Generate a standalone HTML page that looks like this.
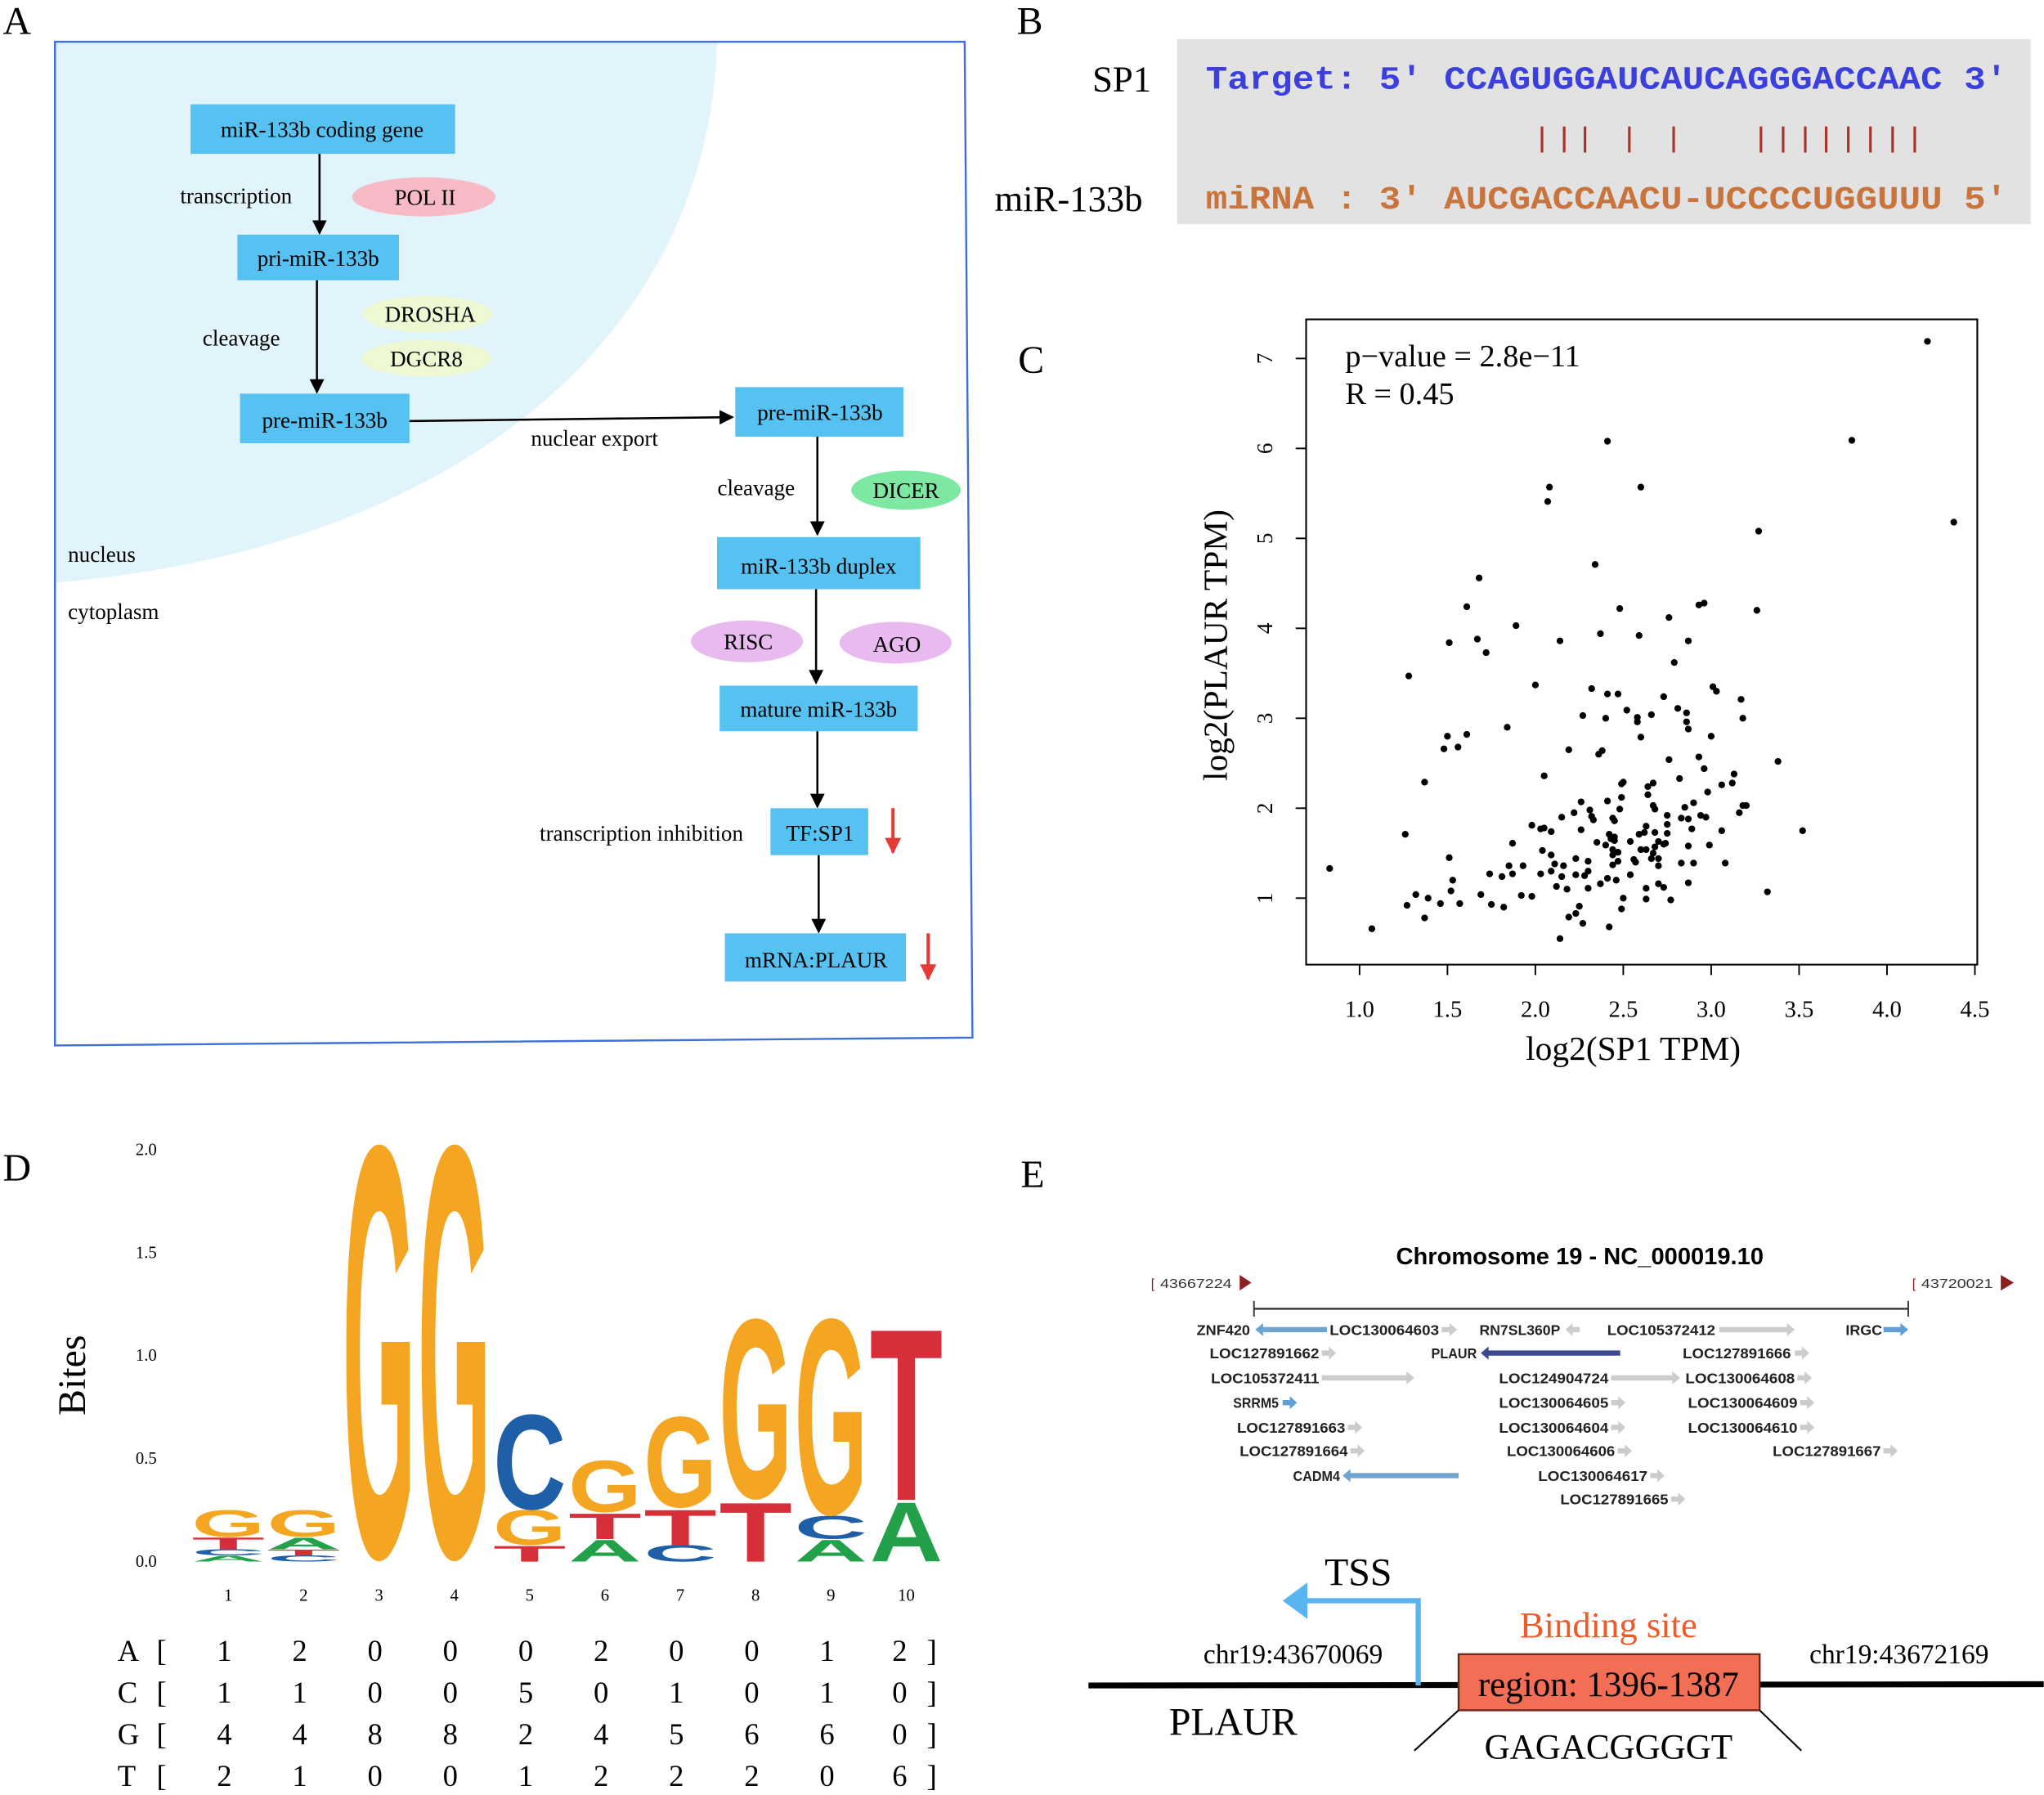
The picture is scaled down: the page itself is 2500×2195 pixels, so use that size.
<!DOCTYPE html>
<html><head><meta charset="utf-8">
<style>
html,body{margin:0;padding:0;background:#fff;}
svg{display:block;}
.serif{font-family:"Liberation Serif",serif;}
.sans{font-family:"Liberation Sans",sans-serif;}
.mono{font-family:"Liberation Mono",monospace;}
</style></head>
<body>
<svg id="fig" width="2500" height="2195" viewBox="0 0 1568 1377" xmlns="http://www.w3.org/2000/svg">
<defs>
<marker id="ah" viewBox="0 0 10 10" refX="9" refY="5" markerWidth="7" markerHeight="7" orient="auto"><path d="M0,0 L10,5 L0,10 z" fill="#000"/></marker>
<marker id="ahr" viewBox="0 0 10 10" refX="9" refY="5" markerWidth="5" markerHeight="5" orient="auto"><path d="M0,0 L10,5 L0,10 z" fill="#e53935"/></marker>
</defs>

<g class="serif" font-size="30" fill="#000">
<text x="2" y="26">A</text>
<text x="780" y="26">B</text>
<text x="781" y="286">C</text>
<text x="2" y="906">D</text>
<text x="783" y="911">E</text>
</g>

<!-- Panel A -->
<g>
<path d="M42,32 L550,32 C545,250 360,420 42,447 Z" fill="#e1f4fc"/>
<polygon points="42,32 740,32 746,796 42,802" fill="none" stroke="#3f6fd6" stroke-width="1.5"/>
<g fill="#55c2f2">
<rect x="146" y="80" width="203" height="38"/>
<rect x="182" y="180" width="124" height="35"/>
<rect x="184" y="302" width="130" height="38"/>
<rect x="564" y="297" width="129" height="38"/>
<rect x="550" y="412" width="156" height="40"/>
<rect x="552" y="526" width="152" height="35"/>
<rect x="591" y="620" width="75" height="36"/>
<rect x="556" y="716" width="139" height="37"/>
</g>
<ellipse cx="325" cy="151" rx="55" ry="15" fill="#f8bac5"/>
<ellipse cx="328" cy="241" rx="50" ry="14" fill="#eef8d2"/>
<ellipse cx="327" cy="275" rx="50" ry="14" fill="#eef8d2"/>
<ellipse cx="695" cy="376" rx="42" ry="15" fill="#7ee8a2"/>
<ellipse cx="573" cy="492" rx="43" ry="16" fill="#e8baf0"/>
<ellipse cx="687" cy="493" rx="43" ry="16" fill="#e8baf0"/>
<g stroke="#000" stroke-width="1.6" marker-end="url(#ah)">
<line x1="245" y1="118" x2="245" y2="179"/>
<line x1="243" y1="215" x2="243" y2="301"/>
<line x1="314" y1="323" x2="562" y2="320"/>
<line x1="627" y1="335" x2="627" y2="410"/>
<line x1="626" y1="452" x2="626" y2="524"/>
<line x1="627" y1="561" x2="627" y2="619"/>
<line x1="628" y1="656" x2="628" y2="715"/>
</g>
<g stroke="#e53935" stroke-width="2.5" marker-end="url(#ahr)">
<line x1="685" y1="620" x2="685" y2="654"/>
<line x1="712" y1="716" x2="712" y2="751"/>
</g>
<g class="serif" font-size="17" fill="#000" text-anchor="middle">
<text x="247" y="105">miR-133b coding gene</text>
<text x="244" y="204">pri-miR-133b</text>
<text x="249" y="328">pre-miR-133b</text>
<text x="629" y="322">pre-miR-133b</text>
<text x="628" y="440">miR-133b duplex</text>
<text x="628" y="550">mature miR-133b</text>
<text x="629" y="645">TF:SP1</text>
<text x="626" y="742">mRNA:PLAUR</text>
<text x="326" y="157">POL II</text>
<text x="330" y="247">DROSHA</text>
<text x="327" y="281">DGCR8</text>
<text x="695" y="382">DICER</text>
<text x="574" y="498">RISC</text>
<text x="688" y="500">AGO</text>
<text x="181" y="156">transcription</text>
<text x="185" y="265">cleavage</text>
<text x="456" y="342">nuclear export</text>
<text x="580" y="380">cleavage</text>
<text x="492" y="645">transcription inhibition</text>
</g>
<g class="serif" font-size="17" fill="#000">
<text x="52" y="431">nucleus</text>
<text x="52" y="475">cytoplasm</text>
</g>
</g>

<!-- Panel B -->
<g>
<rect x="903" y="30" width="655" height="142" fill="#e2e2e2"/>
<text class="serif" x="838" y="70" font-size="28">SP1</text>
<text class="serif" x="763" y="162" font-size="28">miR-133b</text>
<text class="mono" x="925" y="68" font-size="25" font-weight="bold" fill="#3b3fdc" textLength="615" lengthAdjust="spacingAndGlyphs" xml:space="preserve">Target: 5' CCAGUGGAUCAUCAGGGACCAAC 3'</text>
<g stroke="#a8352c" stroke-width="2">
<line x1="1183" y1="97" x2="1183" y2="117"/><line x1="1200" y1="97" x2="1200" y2="117"/><line x1="1216" y1="97" x2="1216" y2="117"/>
<line x1="1250" y1="97" x2="1250" y2="117"/><line x1="1284" y1="97" x2="1284" y2="117"/>
<line x1="1351" y1="97" x2="1351" y2="117"/><line x1="1368" y1="97" x2="1368" y2="117"/><line x1="1385" y1="97" x2="1385" y2="117"/><line x1="1401" y1="97" x2="1401" y2="117"/>
<line x1="1418" y1="97" x2="1418" y2="117"/><line x1="1435" y1="97" x2="1435" y2="117"/><line x1="1452" y1="97" x2="1452" y2="117"/><line x1="1469" y1="97" x2="1469" y2="117"/>
</g>
<text class="mono" x="925" y="160" font-size="25" font-weight="bold" fill="#c8743c" textLength="615" lengthAdjust="spacingAndGlyphs" xml:space="preserve">miRNA : 3' AUCGACCAACU-UCCCCUGGUUU 5'</text>
</g>

<!-- Panel C scatter -->
<g id="scatter">
<rect x="1002" y="245" width="515" height="495" fill="none" stroke="#000" stroke-width="1.3"/>
<g id="xticks"></g><g id="yticks"></g><g id="pts"></g>
<text class="serif" x="1032" y="281" font-size="24">p−value = 2.8e−11</text>
<text class="serif" x="1032" y="310" font-size="24">R = 0.45</text>
<text class="serif" x="1253" y="813" font-size="26" text-anchor="middle">log2(SP1 TPM)</text>
<text class="serif" x="0" y="0" font-size="26" text-anchor="middle" transform="translate(941,495) rotate(-90)">log2(PLAUR TPM)</text>
</g>

<!-- Panel D logo -->
<g id="logo">
<text class="serif" x="0" y="0" font-size="30" text-anchor="middle" transform="translate(65,1055) rotate(-90)">Bites</text>
<g id="logoYt"></g><g id="logoLetters"></g><g id="logoX"></g><g id="matrix"></g>
</g>

<!-- Panel E -->
<g>
<text class="sans" x="1212" y="970" font-size="18" font-weight="bold" text-anchor="middle" textLength="282" lengthAdjust="spacingAndGlyphs">Chromosome 19 - NC_000019.10</text>
<g class="sans" font-size="10" fill="#333">
<text x="883" y="988" fill="#8b2020">[</text><text x="890" y="988" textLength="55" lengthAdjust="spacingAndGlyphs">43667224</text>
<polygon points="951,978 960,984 951,990" fill="#8b2020"/>
<text x="1467" y="988" fill="#8b2020">[</text><text x="1474" y="988" textLength="55" lengthAdjust="spacingAndGlyphs">43720021</text>
<polygon points="1535,978 1545,984 1535,990" fill="#8b2020"/>
</g>
<line x1="962" y1="1004" x2="1464" y2="1004" stroke="#333" stroke-width="1.5"/>
<line x1="962" y1="998" x2="962" y2="1010" stroke="#333" stroke-width="1.2"/>
<line x1="1464" y1="998" x2="1464" y2="1010" stroke="#333" stroke-width="1.2"/>
<g id="genes"></g>
<line x1="835" y1="1293" x2="1568" y2="1292" stroke="#000" stroke-width="4.5"/>
<polyline points="1088,1293 1088,1228 1000,1228" fill="none" stroke="#5ab4f0" stroke-width="4"/>
<polygon points="984,1228 1003,1214 1003,1242" fill="#5ab4f0"/>
<text class="serif" x="1042" y="1216" font-size="30" text-anchor="middle">TSS</text>
<rect x="1119" y="1269" width="231" height="43" fill="#f26e55" stroke="#6b2a1a" stroke-width="1.5"/>
<text class="serif" x="1234" y="1301" font-size="27" text-anchor="middle">region: 1396-1387</text>
<text class="serif" x="1234" y="1256" font-size="28" text-anchor="middle" fill="#f05a28">Binding site</text>
<text class="serif" x="992" y="1276" font-size="21" text-anchor="middle">chr19:43670069</text>
<text class="serif" x="1457" y="1276" font-size="21" text-anchor="middle">chr19:43672169</text>
<text class="serif" x="946" y="1331" font-size="30" text-anchor="middle">PLAUR</text>
<text class="serif" x="1234" y="1349" font-size="27" text-anchor="middle">GAGACGGGGT</text>
<line x1="1119" y1="1312" x2="1085" y2="1343" stroke="#000" stroke-width="1.3"/>
<line x1="1350" y1="1312" x2="1382" y2="1343" stroke="#000" stroke-width="1.3"/>
</g>

<script>
const NS = "http://www.w3.org/2000/svg";
const sp1Values = [4.23,2.41,3.80,2.08,2.07,2.60,4.38,3.27,2.34,1.68,1.61,2.48,2.93,2.96,3.26,2.76,1.89,2.37,2.59,1.51,1.67,2.14,2.87,1.72,2.79,1.28,2.00,2.32,2.41,2.47,2.73,3.01,3.03,3.17,2.81,2.52,2.86,2.27,2.66,2.40,2.58,2.58,2.86,2.87,3.18,1.84,1.50,1.61,2.60,3.00,1.48,1.56,2.19,2.38,2.36,2.76,2.93,3.38,2.96,2.05,1.37,2.82,2.50,2.49,2.67,2.64,3.06,3.13,3.12,2.98,2.64,2.49,2.26,2.41,2.90,3.18,3.20,2.67,2.68,2.31,2.48,2.85,3.16,2.22,2.32,2.33,2.44,2.45,2.75,2.75,2.83,2.87,2.97,2.94,2.15,1.98,2.03,2.05,2.09,2.26,2.63,2.62,2.68,2.89,3.06,3.52,1.26,2.42,2.43,2.59,2.75,2.45,2.45,1.87,2.35,2.40,2.54,2.70,2.73,2.74,2.68,2.67,2.99,2.87,2.04,2.44,2.47,2.44,2.60,2.63,2.09,1.51,2.23,2.30,2.56,2.57,2.70,2.70,2.66,2.47,2.44,0.83,2.11,2.16,2.83,2.90,3.08,1.85,1.93,2.09,2.30,2.28,1.74,1.81,1.87,2.03,2.23,2.15,2.54,2.41,2.46,1.53,2.87,2.37,2.70,2.73,2.12,2.18,2.30,2.63,1.52,3.32,1.32,1.69,1.92,1.98,1.39,2.50,2.63,2.77,1.46,1.57,1.27,1.75,1.82,2.25,2.49,2.23,2.19,1.37,2.27,1.07,2.42,2.14];
const plaurValues = [7.19,6.08,6.09,5.57,5.41,5.57,5.18,5.08,4.71,4.56,4.24,4.22,4.26,4.28,4.20,4.12,4.03,3.94,3.92,3.84,3.88,3.86,3.86,3.73,3.62,3.47,3.37,3.33,3.27,3.27,3.24,3.35,3.30,3.21,3.11,3.09,3.06,3.03,3.04,3.00,3.01,2.96,2.96,2.88,3.00,2.90,2.80,2.82,2.79,2.80,2.66,2.68,2.65,2.64,2.60,2.54,2.57,2.52,2.44,2.36,2.29,2.33,2.29,2.27,2.28,2.24,2.26,2.38,2.28,2.18,2.15,2.12,2.07,2.08,2.06,2.03,2.03,2.03,1.99,1.98,1.99,2.01,1.95,1.95,1.91,1.87,1.89,1.86,1.92,1.82,1.89,1.88,1.90,1.92,1.90,1.81,1.77,1.78,1.74,1.76,1.80,1.73,1.73,1.77,1.75,1.75,1.71,1.71,1.66,1.71,1.72,1.68,1.64,1.61,1.62,1.59,1.63,1.63,1.60,1.61,1.57,1.50,1.59,1.58,1.53,1.54,1.51,1.48,1.54,1.54,1.48,1.45,1.44,1.41,1.43,1.40,1.44,1.36,1.44,1.41,1.37,1.33,1.38,1.36,1.39,1.39,1.39,1.36,1.36,1.30,1.30,1.25,1.27,1.24,1.27,1.27,1.26,1.24,1.26,1.22,1.20,1.20,1.17,1.16,1.16,1.12,1.13,1.10,1.11,1.11,1.08,1.07,1.04,1.04,1.03,1.02,1.00,1.00,0.99,0.98,0.94,0.94,0.92,0.93,0.90,0.91,0.88,0.83,0.79,0.78,0.72,0.66,0.68,0.55];
const xTickLabels = ["1.0","1.5","2.0","2.5","3.0","3.5","4.0","4.5"];
const yTickLabels = ["1","2","3","4","5","6","7"];
const logoPositions = ["1","2","3","4","5","6","7","8","9","10"];
const bitsA = [0.03,0.06,0,0,0,0.11,0,0,0.11,0.30];
const bitsC = [0.03,0.03,0,0,0.46,0,0.08,0,0.11,0];
const bitsG = [0.13,0.13,2.0,2.0,0.17,0.25,0.44,0.87,0.95,0];
const bitsT = [0.06,0.03,0,0,0.08,0.13,0.18,0.30,0,0.87];
const logoYTicks = ["0.0","0.5","1.0","1.5","2.0"];
const countA = [1,2,0,0,0,2,0,0,1,2];
const countC = [1,1,0,0,5,0,1,0,1,0];
const countG = [4,4,8,8,2,4,5,6,6,0];
const countT = [2,1,0,0,1,2,2,2,0,6];

function mk(tag, attrs, parent, txt){
  const e = document.createElementNS(NS, tag);
  for (const k in attrs) e.setAttribute(k, attrs[k]);
  if (txt !== undefined) e.textContent = txt;
  parent.appendChild(e);
  return e;
}
const sx = v => 1043 + (v - 1) * 134.9;
const sy = v => 689 - (v - 1) * 69;
const xt = document.getElementById('xticks');
xTickLabels.forEach(l => {
  const v = parseFloat(l);
  const ln = mk('line', {x1:sx(v), y1:740, x2:sx(v), y2:748, stroke:'#000', 'stroke-width':1.2}, xt);
  
  
  const t = mk('text', {x:sx(v), y:780, 'font-size':18, 'text-anchor':'middle', 'font-family':'Liberation Serif, serif'}, xt, l);
  
  
});
const yt = document.getElementById('yticks');
yTickLabels.forEach(l => {
  const v = parseFloat(l);
  const ln = mk('line', {x1:994, y1:sy(v), x2:1002, y2:sy(v), stroke:'#000', 'stroke-width':1.2}, yt);
  
  
  const t = mk('text', {x:0, y:0, 'font-size':17, 'text-anchor':'middle', 'font-family':'Liberation Serif, serif', transform:'translate(976,'+sy(v)+') rotate(-90)'}, yt, l);
  
  
});
const pts = document.getElementById('pts');
sp1Values.forEach((x, i) => {
  const c = mk('circle', {cx:sx(x), cy:sy(plaurValues[i]), r:2.6, fill:'#000'}, pts);
  
  
});

const colX = i => 175 + i * 57.8;
const by = v => 1198 - v * 158;
const ly = document.getElementById('logoYt');
logoYTicks.forEach(l => {
  const t = mk('text', {x:112, y:by(parseFloat(l)) + 4, 'font-size':13, 'text-anchor':'middle', 'font-family':'Liberation Serif, serif'}, ly, l);
  
  
});
const colors = {A:'#22a04a', C:'#1f5fa8', G:'#f4a623', T:'#d62f3a'};
const capH = {A:72.9, C:70, G:70, T:72.9};
const lg = document.getElementById('logoLetters');
logoPositions.forEach((p, i) => {
  const stack = [['A',bitsA[i]],['C',bitsC[i]],['G',bitsG[i]],['T',bitsT[i]]].filter(s => s[1] > 0).sort((a,b) => a[1]-b[1]);
  let base = 0;
  stack.forEach(s => {
    const h = s[1] * 158;
    const round = (s[0]==='G'||s[0]==='C');
    const yb = by(base) - (round ? h*0.015 : 0);
    const t = mk('text', {x:0, y:0, 'font-size':100, 'font-weight':'bold', 'font-family':'Liberation Sans, sans-serif', fill:colors[s[0]], textLength:56, lengthAdjust:'spacingAndGlyphs', transform:'translate('+(colX(i)-28)+','+yb+') scale(1,'+(h/capH[s[0]])+')'}, lg, s[0]);
    
    
    base += s[1];
  });
  const xl = mk('text', {x:colX(i), y:1228, 'font-size':13, 'text-anchor':'middle', 'font-family':'Liberation Serif, serif'}, document.getElementById('logoX'), p);
  
  
});
const mg = document.getElementById('matrix');
const rows = [['A',countA],['C',countC],['G',countG],['T',countT]];
rows.forEach((r, ri) => {
  const y = 1274 + ri * 32;
  const a = {'font-size':23, 'font-family':'Liberation Serif, serif'};
  const lab = mk('text', Object.assign({x:90, y:y}, a), mg, r[0]);
  
  
  mk('text', Object.assign({x:120, y:y}, a), mg, '[');
  mk('text', Object.assign({x:711, y:y}, a), mg, ']');
  r[1].forEach((v, i) => {
    const t = mk('text', Object.assign({x:colX(i) - 3 + (i===9?-2:0), y:y, 'text-anchor':'middle'}, a), mg, String(v));
    
    
  });
});

const genes = [
 ['ZNF420',918,959,1020,963,1018,-1,'#6fa3d0'],
 ['LOC130064603',1020,1104,1020,1106,1118,1,'#cccccc'],
 ['RN7SL360P',1135,1197,1020,1201,1212,-1,'#cccccc'],
 ['LOC105372412',1233,1316,1020,1319,1377,1,'#cccccc'],
 ['IRGC',1416,1444,1020,1445,1464,1,'#5f9fd5'],
 ['LOC127891662',928,1012,1038,1014,1025,1,'#cccccc'],
 ['PLAUR',1098,1133,1038,1136,1243,-1,'#3b4a8c'],
 ['LOC127891666',1291,1374,1038,1377,1388,1,'#cccccc'],
 ['LOC105372411',929,1012,1057,1014,1085,1,'#cccccc'],
 ['LOC124904724',1150,1234,1057,1236,1289,1,'#cccccc'],
 ['LOC130064608',1293,1377,1057,1379,1390,1,'#cccccc'],
 ['SRRM5',946,981,1076,984,995,1,'#5f9fd5'],
 ['LOC130064605',1150,1234,1076,1236,1247,1,'#cccccc'],
 ['LOC130064609',1295,1379,1076,1381,1392,1,'#cccccc'],
 ['LOC127891663',949,1032,1095,1034,1045,1,'#cccccc'],
 ['LOC130064604',1150,1234,1095,1236,1247,1,'#cccccc'],
 ['LOC130064610',1295,1379,1095,1381,1392,1,'#cccccc'],
 ['LOC127891664',951,1034,1113,1036,1047,1,'#cccccc'],
 ['LOC130064606',1156,1239,1113,1241,1252,1,'#cccccc'],
 ['LOC127891667',1360,1443,1113,1445,1456,1,'#cccccc'],
 ['CADM4',992,1028,1132,1030,1119,-1,'#6fa3d0'],
 ['LOC130064617',1180,1264,1132,1266,1277,1,'#cccccc'],
 ['LOC127891665',1197,1280,1150,1282,1293,1,'#cccccc']
];
const gg = document.getElementById('genes');
genes.forEach(g => {
  const [name, ts, te, y, as, ae, dir, col] = g;
  const t = mk('text', {x:ts, y:y+4, 'font-size':11, 'font-weight':'bold', 'font-family':'Liberation Sans, sans-serif', fill:'#222', textLength:te-ts, lengthAdjust:'spacingAndGlyphs'}, gg, name);
  
  
  const len = ae - as, hw = Math.min(6, len*0.5);
  let d;
  if (dir > 0) d = `M${as},${y-2} L${ae-hw},${y-2} L${ae-hw},${y-5} L${ae},${y} L${ae-hw},${y+5} L${ae-hw},${y+2} L${as},${y+2} Z`;
  else d = `M${ae},${y-2} L${as+hw},${y-2} L${as+hw},${y-5} L${as},${y} L${as+hw},${y+5} L${as+hw},${y+2} L${ae},${y+2} Z`;
  const p = mk('path', {d:d, fill:col}, gg);
  
  
});
</script>
</svg>
</body></html>
